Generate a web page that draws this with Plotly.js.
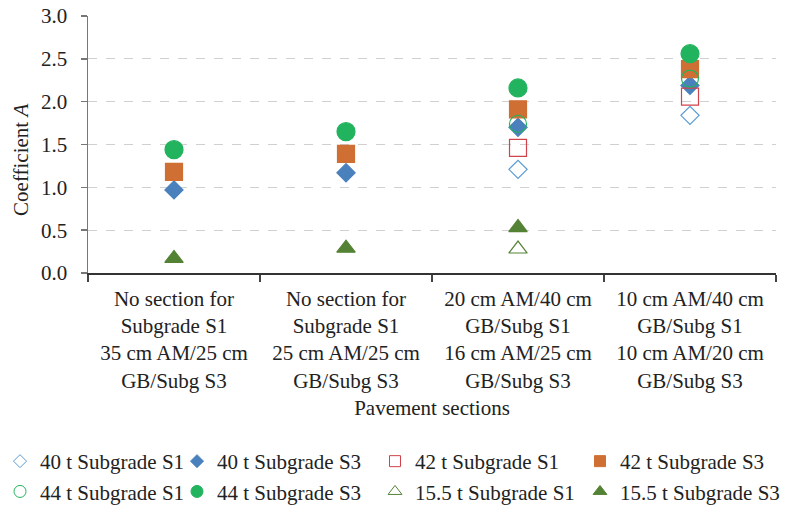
<!DOCTYPE html>
<html>
<head>
<meta charset="utf-8">
<script src="https://cdn.plot.ly/plotly-3.0.1.min.js"></script>
<style>html,body{margin:0;padding:0;background:#fff}#chart{width:791px;height:505px}</style>
</head>
<body>
<div id="chart"></div>
<script>
const categories = [
  "No section for<br>Subgrade S1<br>35 cm AM/25 cm<br>GB/Subg S3",
  "No section for<br>Subgrade S1<br>25 cm AM/25 cm<br>GB/Subg S3",
  "20 cm AM/40 cm<br>GB/Subg S1<br>16 cm AM/25 cm<br>GB/Subg S3",
  "10 cm AM/40 cm<br>GB/Subg S1<br>10 cm AM/20 cm<br>GB/Subg S3"
];
const seriesNames = [
  "40 t Subgrade S1", "40 t Subgrade S3", "42 t Subgrade S1", "42 t Subgrade S3",
  "44 t Subgrade S1", "44 t Subgrade S3", "15.5 t Subgrade S1", "15.5 t Subgrade S3"
];
const v40S1 = [null, null, 1.21, 1.84];
const v40S3 = [0.97, 1.17, 1.70, 2.19];
const v42S1 = [null, null, 1.46, 2.06];
const v42S3 = [1.18, 1.39, 1.91, 2.38];
const v44S1 = [null, null, 1.74, 2.27];
const v44S3 = [1.44, 1.65, 2.16, 2.56];
const v155S1 = [null, null, 0.28, null];
const v155S3 = [0.17, 0.29, 0.53, null];
const yTickVals = [0, 0.5, 1, 1.5, 2, 2.5, 3];
const yTickText = ["0.0", "0.5", "1.0", "1.5", "2.0", "2.5", "3.0"];
const yTitle = "Coefficient <i>A</i>";
const xTitle = "Pavement sections";

const styles = [
  {symbol: "diamond-open", color: "#5b9bd5", size: 14, lsize: 10},
  {symbol: "diamond", color: "#4a81bd", size: 14, lsize: 10},
  {symbol: "square-open", color: "#d0434b", size: 17, lsize: 11},
  {symbol: "square", color: "#cf6f33", size: 17, lsize: 11},
  {symbol: "circle-open", color: "#22b35e", size: 17, lsize: 12},
  {symbol: "circle", color: "#22b35e", size: 18, lsize: 12},
  {symbol: "triangle-up-open", color: "#548235", size: 16, lsize: 12},
  {symbol: "triangle-up", color: "#548235", size: 16, lsize: 12}
];
const allValues = [v40S1, v40S3, v42S1, v42S3, v44S1, v44S3, v155S1, v155S3];
// legend column for each series (4 columns x 2 rows, as in the reference)
const legendIds = ["legend", "legend2", "legend3", "legend4", "legend", "legend2", "legend3", "legend4"];

const traces = [];
allValues.forEach((vals, i) => {
  traces.push({
    type: "scatter",
    mode: "markers",
    name: seriesNames[i],
    legendgroup: "g" + i,
    showlegend: false,
    x: categories,
    y: vals,
    marker: {
      symbol: styles[i].symbol,
      color: styles[i].color,
      size: styles[i].size,
      line: {width: 1.2, color: styles[i].color}
    }
  });
});
allValues.forEach((vals, i) => {
  traces.push({
    type: "scatter",
    mode: "markers",
    name: seriesNames[i],
    legendgroup: "g" + i,
    legend: legendIds[i],
    showlegend: true,
    x: [null],
    y: [null],
    marker: {
      symbol: styles[i].symbol,
      color: styles[i].color,
      size: styles[i].lsize,
      line: {width: 1, color: styles[i].color}
    }
  });
});

const font = {family: "Liberation Serif, Times New Roman, serif", size: 21, color: "#222"};

function legendAt(px) {
  return {
    orientation: "v",
    xref: "container", yref: "container",
    x: px / 791, xanchor: "left",
    y: (505 - 441) / 505, yanchor: "top",
    font: font,
    tracegroupgap: 0,
    itemsizing: "trace",
    bgcolor: "rgba(0,0,0,0)"
  };
}

const layout = {
  width: 791, height: 505,
  margin: {l: 88, r: 15, t: 16, b: 232, autoexpand: false},
  paper_bgcolor: "#fff", plot_bgcolor: "#fff",
  font: font,
  showlegend: true,
  xaxis: {
    type: "category",
    categoryorder: "array",
    categoryarray: categories,
    range: [-0.5, 3.5],
    tickson: "boundaries",
    ticks: "outside", ticklen: 7, tickcolor: "#444", tickwidth: 1.5,
    ticklabelstandoff: 6,
    showline: true, linecolor: "#333", linewidth: 1.5,
    showgrid: false, zeroline: false,
    automargin: false,
    tickfont: font,
    title: {text: xTitle, font: font, standoff: 8}
  },
  yaxis: {
    range: [0, 3],
    tickvals: yTickVals, ticktext: yTickText,
    ticks: "outside", ticklen: 6, tickcolor: "#777", tickwidth: 1.5,
    ticklabelstandoff: 9,
    showline: true, linecolor: "#777", linewidth: 1.5,
    showgrid: true, gridcolor: "#d0d0d0", griddash: "dash", gridwidth: 1,
    zeroline: false,
    automargin: false,
    tickfont: font
  },
  annotations: [{
    text: yTitle,
    xref: "paper", yref: "paper",
    x: (21 - 88) / 688, y: 0.44,
    xanchor: "center", yanchor: "middle",
    textangle: -90,
    showarrow: false,
    font: font
  }],
  legend: legendAt(0),
  legend2: legendAt(177),
  legend3: legendAt(375),
  legend4: legendAt(580)
};

Plotly.newPlot("chart", traces, layout, {displayModeBar: false, staticPlot: true});
</script>
</body>
</html>
